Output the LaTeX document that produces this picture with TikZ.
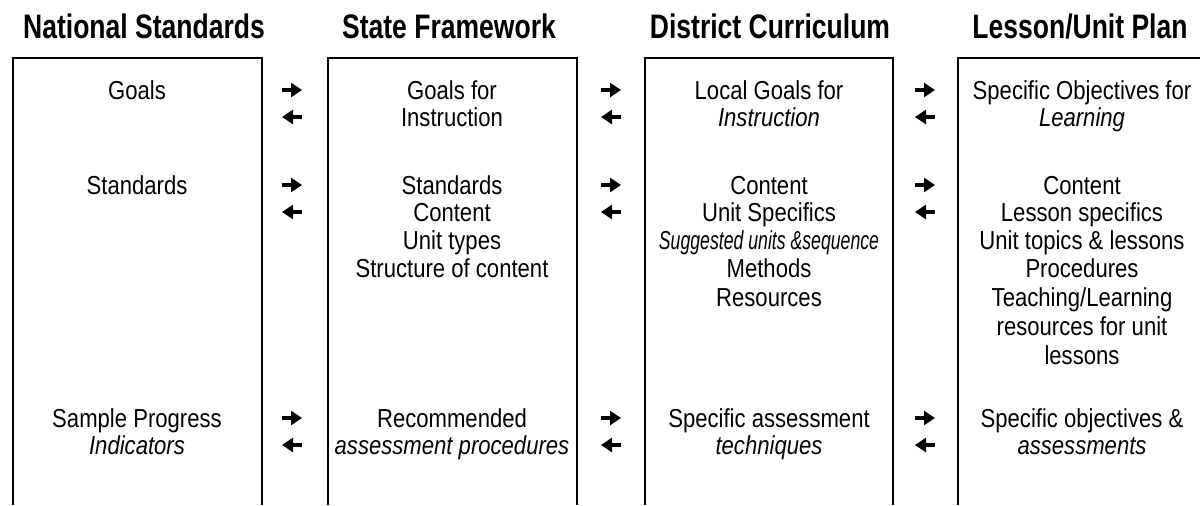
\documentclass[tikz,border=0pt]{standalone}
\usepackage{fontspec}
\setmainfont{Liberation Sans}[FakeStretch=0.85]
\newfontfamily\headfont{Liberation Sans}[FakeStretch=0.78]
\usepackage{graphicx}
\usetikzlibrary{arrows.meta}

\begin{document}
\begin{tikzpicture}[x=0.5pt,y=-0.5pt,
  head/.style={font=\headfont\fontsize{17}{19}\selectfont\bfseries, inner sep=0pt, anchor=base},
  entry/.style={font=\fontsize{13}{15}\selectfont, inner sep=0pt, anchor=base},
  colline/.style={line width=1pt},
  marker/.style={line width=2pt, -{Triangle[length=5.5pt,width=7pt]}}]
  \useasboundingbox (0,0) rectangle (1200,505);

  % headers
  \node[head] (hnat) at (144,38) {National Standards};
  \node[head] (hstate) at (449,38) {State Framework};
  \node[head] (hdist) at (770,38) {District Curriculum};
  \node[head, anchor=base west] (hplan) at (972,38) {Lesson/Unit Plan};

  % the four columns, open at the bottom
  \draw[colline] (13,505) |- (262,58) -- (262,505);
  \draw[colline] (328,505) |- (577,58) -- (577,505);
  \draw[colline] (645,505) |- (893,58) -- (893,505);
  \draw[colline] (958,505) |- (1200,58);

  % national standards
  \node[entry] (n1) at (137,99) {Goals};
  \node[entry] (n2) at (137,194) {Standards};
  \node[entry] (n3) at (137,427) {Sample Progress};
  \node[entry] (n4) at (137,454) {\itshape Indicators};

  % state framework
  \node[entry] (s1) at (452,99) {Goals for};
  \node[entry] (s2) at (452,126) {Instruction};
  \node[entry] (s3) at (452,194) {Standards};
  \node[entry] (s4) at (452,221) {Content};
  \node[entry] (s5) at (452,249) {Unit types};
  \node[entry] (s6) at (452,277) {Structure of content};
  \node[entry] (s7) at (452,427) {Recommended};
  \node[entry] (s8) at (452,454) {\itshape assessment procedures};

  % district curriculum
  \node[entry] (d1) at (769,99) {Local Goals for};
  \node[entry] (d2) at (769,126) {\itshape Instruction};
  \node[entry] (d3) at (769,194) {Content};
  \node[entry] (d4) at (769,221) {Unit Specifics};
  \node[entry] (d5) at (769,249) {\scalebox{0.8}[1]{\itshape Suggested units \&sequence}};
  \node[entry] (d6) at (769,277) {Methods};
  \node[entry] (d7) at (769,306) {Resources};
  \node[entry] (d8) at (769,427) {Specific assessment};
  \node[entry] (d9) at (769,454) {\itshape techniques};

  % lesson / unit plan
  \node[entry] (l1) at (1082,99) {Specific Objectives for};
  \node[entry] (l2) at (1082,126) {\itshape Learning};
  \node[entry] (l3) at (1082,194) {Content};
  \node[entry] (l4) at (1082,221) {Lesson specifics};
  \node[entry] (l5) at (1082,249) {Unit topics \& lessons};
  \node[entry] (l6) at (1082,277) {Procedures};
  \node[entry] (l7) at (1082,306) {Teaching/Learning};
  \node[entry] (l8) at (1082,335) {resources for unit};
  \node[entry] (l9) at (1082,364) {lessons};
  \node[entry] (l10) at (1082,427) {Specific objectives \&};
  \node[entry] (l11) at (1082,454) {\itshape assessments};

  % arrows both ways between neighbouring columns
  \foreach \gx [count=\g] in {292,611,925}
    \foreach \ry [count=\r] in {90,185,418} {
      \coordinate (fw\g\r a) at (\gx-10,\ry);
      \coordinate (fw\g\r b) at (\gx+10,\ry);
      \coordinate (bk\g\r a) at (\gx+10,\ry+27);
      \coordinate (bk\g\r b) at (\gx-10,\ry+27);
      \draw[marker] (fw\g\r a) -- (fw\g\r b);
      \draw[marker] (bk\g\r a) -- (bk\g\r b);
    }
\end{tikzpicture}
\end{document}
